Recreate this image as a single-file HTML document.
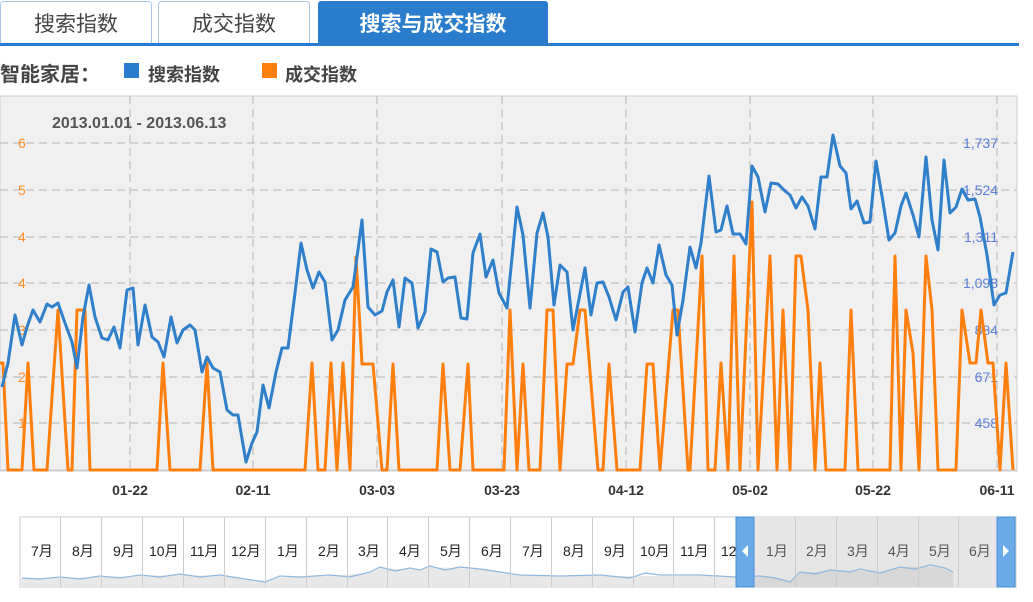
<!DOCTYPE html>
<html><head><meta charset="utf-8"><style>
body{margin:0;width:1033px;height:602px;background:#fff;overflow:hidden;font-family:"Liberation Sans","Noto Sans CJK SC",sans-serif;}
</style></head><body>
<svg width="1033" height="602" viewBox="0 0 1033 602" xmlns="http://www.w3.org/2000/svg" style="position:absolute;left:0;top:0;font-family:'Liberation Sans','Noto Sans CJK SC',sans-serif">
<rect x="0.5" y="1.5" width="151" height="43" rx="3" fill="#fff" stroke="#a9c6e4"/>
<rect x="158.5" y="1.5" width="151" height="43" rx="3" fill="#fff" stroke="#a9c6e4"/>
<rect x="318" y="1" width="230" height="44" rx="3" fill="#2a7ccc"/>
<rect x="0" y="43" width="1019" height="3" fill="#2a7ccc"/>
<text x="76" y="31" font-size="21" fill="#444" text-anchor="middle">搜索指数</text>
<text x="234" y="31" font-size="21" fill="#444" text-anchor="middle">成交指数</text>
<text x="433" y="31" font-size="21" fill="#fff" text-anchor="middle" font-weight="bold">搜索与成交指数</text>
<text x="0" y="81" font-size="20" fill="#444" font-weight="bold">智能家居：</text>
<rect x="124" y="63" width="15" height="15" fill="#2a7ccc"/>
<text x="148" y="81" font-size="18" fill="#444" font-weight="bold">搜索指数</text>
<rect x="262" y="63" width="15" height="15" fill="#ff7f0e"/>
<text x="285" y="81" font-size="18" fill="#444" font-weight="bold">成交指数</text>
<rect x="0" y="96" width="1017" height="375" fill="#f0f0f0" stroke="#ccc"/>
<g stroke="#c8c8c8" stroke-width="1.5" stroke-dasharray="8,5">
<line x1="0" y1="143" x2="1017" y2="143"/><line x1="0" y1="190" x2="1017" y2="190"/>
<line x1="0" y1="237" x2="1017" y2="237"/><line x1="0" y1="283" x2="1017" y2="283"/>
<line x1="0" y1="330" x2="1017" y2="330"/><line x1="0" y1="377" x2="1017" y2="377"/>
<line x1="0" y1="423" x2="1017" y2="423"/>
<line x1="130" y1="96" x2="130" y2="470"/><line x1="253" y1="96" x2="253" y2="470"/>
<line x1="377" y1="96" x2="377" y2="470"/><line x1="502" y1="96" x2="502" y2="470"/>
<line x1="626" y1="96" x2="626" y2="470"/><line x1="750" y1="96" x2="750" y2="470"/>
<line x1="873" y1="96" x2="873" y2="470"/><line x1="997" y1="96" x2="997" y2="470"/>
</g>
<line x1="0" y1="470" x2="1017" y2="470" stroke="#ccc"/>
<text x="52" y="128" font-size="16" font-weight="bold" fill="#555">2013.01.01 - 2013.06.13</text>
<g font-size="14" fill="#ff8c2a">
<text x="18" y="148">6</text><text x="18" y="195">5</text><text x="18" y="242">4</text><text x="18" y="288">4</text><text x="18" y="335">3</text><text x="18" y="382">2</text><text x="18" y="428">1</text>
</g>
<g font-size="14" fill="#5b7fd8" text-anchor="end">
<text x="998" y="148">1,737</text><text x="998" y="195">1,524</text><text x="998" y="242">1,311</text><text x="998" y="288">1,098</text><text x="998" y="335">884</text><text x="998" y="382">671</text><text x="998" y="428">458</text>
</g>
<polyline fill="none" stroke="#ff7f0e" stroke-width="3" stroke-linejoin="round" points="0,363 3,363 8,470 22,470 28,363 34,470 47,470 58,310 68,470 72,470 77,310 85,310 90,470 157,470 163,363 170,470 200,470 207,363 213,470 305,470 312,363 318,470 325,470 331,363 337,470 343,363 350,470 356,257 362,364 373,364 382,470 387,470 393,364 399,470 437,470 443,364 450,470 460,470 468,364 473,470 504,470 510,310 517,470 523,364 529,470 540,470 547,310 553,310 560,470 567,364 573,364 580,310 585,310 598,470 603,470 609,364 617,470 640,470 647,364 653,364 660,470 673,310 678,310 688,470 690,470 702,256 708,470 715,470 721,363 728,470 734,256 740,470 752,202 758,470 770,256 777,470 783,310 790,470 796,256 801,256 808,310 815,470 820,363 826,470 845,470 851,310 858,470 890,470 895,256 901,470 906,310 913,353 919,470 926,256 932,310 938,470 956,470 962,310 970,363 976,363 981,310 988,363 993,363 1000,470 1006,363 1013,470"/>
<polyline fill="none" stroke="#2f7fcb" stroke-width="3" stroke-linejoin="round" points="2,387 8,363 15,315 22,345 27,327 33,310 40,322 47,304 52,307 58,303 65,323 72,342 77,368 83,317 89,285 95,317 102,338 108,340 114,327 120,348 127,290 133,288 138,345 145,305 152,337 158,342 164,357 171,317 177,343 183,330 190,325 195,330 202,372 207,357 213,368 220,372 227,410 233,415 238,415 246,462 252,443 257,432 263,385 269,408 276,372 282,348 288,348 295,293 301,243 307,270 313,288 319,272 325,282 332,340 338,330 345,300 353,287 362,220 368,307 375,315 382,311 387,292 393,280 399,327 405,278 412,283 418,328 425,312 431,249 437,252 443,282 448,278 455,277 461,318 467,319 473,253 480,234 486,277 493,260 499,293 507,308 517,207 523,235 530,308 537,233 543,213 548,237 554,305 560,265 567,272 573,330 585,268 591,315 597,283 603,282 609,297 616,320 623,292 628,287 635,332 642,283 647,268 653,283 659,245 666,275 672,285 677,335 683,300 690,247 696,268 701,243 709,176 716,232 721,230 727,206 733,234 740,234 746,244 752,166 758,177 765,212 771,183 778,184 785,191 790,195 796,208 802,197 808,206 815,229 821,177 827,177 833,135 840,166 846,173 851,209 857,201 864,223 870,222 876,161 883,202 889,240 895,233 901,206 906,193 913,215 919,237 926,157 932,220 938,250 944,160 950,213 956,207 962,189 968,200 975,199 980,217 987,255 994,305 1000,295 1006,293 1013,252"/>
<g font-size="14" font-weight="bold" fill="#333" text-anchor="middle">
<text x="130" y="495">01-22</text><text x="253" y="495">02-11</text><text x="377" y="495">03-03</text><text x="502" y="495">03-23</text><text x="626" y="495">04-12</text><text x="750" y="495">05-02</text><text x="873" y="495">05-22</text><text x="997" y="495">06-11</text>
</g>
<rect x="20" y="517" width="996" height="70" fill="#fff" stroke="#ccc"/>
<rect x="754" y="517" width="243" height="70" fill="#e6e6e6"/>
<polygon fill="#e8e8e8" points="20,587 20,578 60,578 100,577 140,576 180,575 220,576 245,579 265,581 280,577 330,576 370,573 380,568 420,570 430,567 480,569 520,575 600,576 700,576 730,576 754,577 754,587"/>
<polygon fill="#d8d8d8" points="754,587 754,577 770,577 790,582 800,573 840,570 880,572 910,566 940,568 953,572 953,587"/>
<polyline fill="none" stroke="#8fb8de" stroke-width="1.2" points="22,578 40,579 60,577 80,579 100,576 120,578 140,575 160,577 180,574 200,577 220,575 245,579 265,582 280,576 300,577 330,575 350,577 370,572 380,567 395,571 410,568 420,570 430,566 445,570 460,567 480,569 500,572 520,575 560,576 600,575 630,578 645,573 660,575 700,575 736,577 760,576 775,578 790,582 800,572 815,574 830,570 850,572 860,569 880,573 900,567 915,569 930,565 945,568 953,572"/>
<g stroke="#ccc">
<line x1="60.5" y1="517" x2="60.5" y2="587"/><line x1="101.5" y1="517" x2="101.5" y2="587"/><line x1="142.5" y1="517" x2="142.5" y2="587"/><line x1="183.5" y1="517" x2="183.5" y2="587"/><line x1="224.5" y1="517" x2="224.5" y2="587"/><line x1="265.5" y1="517" x2="265.5" y2="587"/><line x1="306.5" y1="517" x2="306.5" y2="587"/><line x1="347.5" y1="517" x2="347.5" y2="587"/><line x1="387.5" y1="517" x2="387.5" y2="587"/><line x1="428.5" y1="517" x2="428.5" y2="587"/><line x1="469.5" y1="517" x2="469.5" y2="587"/><line x1="510.5" y1="517" x2="510.5" y2="587"/><line x1="551.5" y1="517" x2="551.5" y2="587"/><line x1="592.5" y1="517" x2="592.5" y2="587"/><line x1="633.5" y1="517" x2="633.5" y2="587"/><line x1="673.5" y1="517" x2="673.5" y2="587"/><line x1="714.5" y1="517" x2="714.5" y2="587"/><line x1="795.5" y1="517" x2="795.5" y2="587"/><line x1="836.5" y1="517" x2="836.5" y2="587"/><line x1="877.5" y1="517" x2="877.5" y2="587"/><line x1="918.5" y1="517" x2="918.5" y2="587"/><line x1="958.5" y1="517" x2="958.5" y2="587"/>
</g>
<g font-size="14" fill="#222">
<text x="31" y="556">7月</text><text x="72" y="556">8月</text><text x="113" y="556">9月</text><text x="149" y="556">10月</text><text x="190" y="556">11月</text><text x="231" y="556">12月</text><text x="277" y="556">1月</text><text x="318" y="556">2月</text><text x="358" y="556">3月</text><text x="399" y="556">4月</text><text x="440" y="556">5月</text><text x="481" y="556">6月</text><text x="522" y="556">7月</text><text x="563" y="556">8月</text><text x="604" y="556">9月</text><text x="640" y="556">10月</text><text x="680" y="556">11月</text><text x="721" y="556">12</text>
</g>
<g font-size="14" fill="#555">
<text x="766" y="556">1月</text><text x="806" y="556">2月</text><text x="847" y="556">3月</text><text x="888" y="556">4月</text><text x="929" y="556">5月</text><text x="969" y="556">6月</text>
</g>
<rect x="736" y="517" width="18" height="70" fill="#6aaae8" stroke="#4a8fd6"/>
<polygon points="748,545 748,557 742,551" fill="#fff"/>
<rect x="997" y="517" width="18" height="70" fill="#6aaae8" stroke="#4a8fd6"/>
<polygon points="1003,545 1003,557 1009,551" fill="#fff"/>
</svg>
</body></html>
